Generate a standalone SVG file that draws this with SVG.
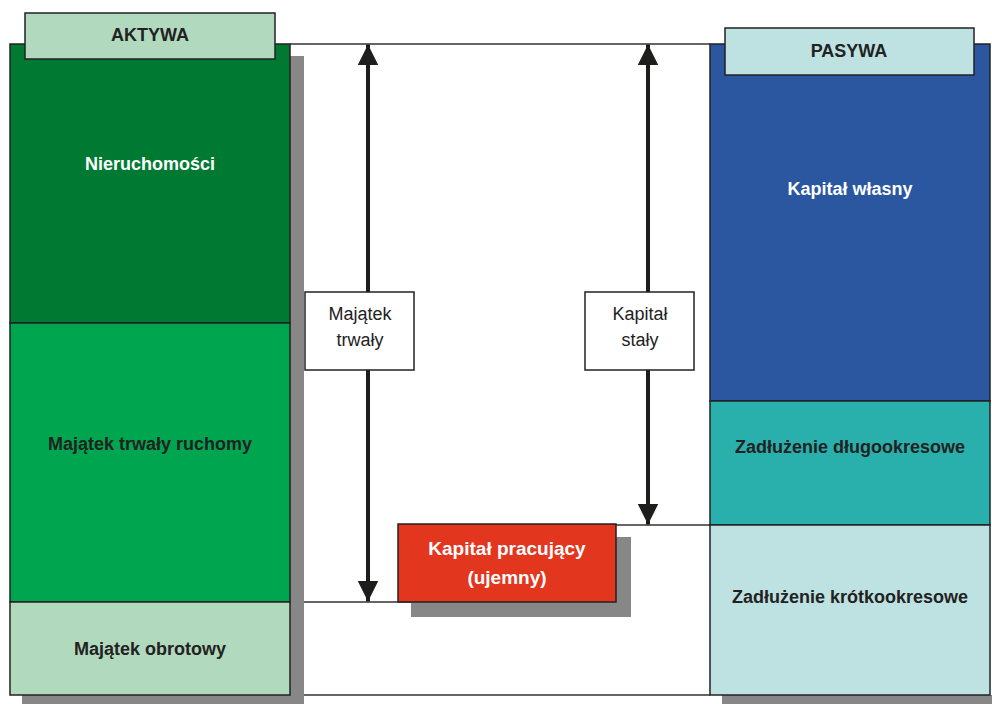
<svg xmlns="http://www.w3.org/2000/svg" width="992" height="704" viewBox="0 0 992 704">
<defs>
<style>
.blk{stroke:#222;stroke-width:1.5}
.sh{fill:#878787}
.b{font-family:"Liberation Sans",Arial,sans-serif;font-weight:bold;font-size:18px;text-anchor:middle;dominant-baseline:central;fill:#222}
.w{fill:#fff}
.big{font-size:19px}
.n{font-family:"Liberation Sans",Arial,sans-serif;font-size:18px;text-anchor:middle;fill:#222}
.ln{stroke:#333;stroke-width:1.3;fill:none}
.arr{stroke:#1d1d1b;stroke-width:4;fill:none}
</style>
<marker id="ah" viewBox="0 0 10 10" refX="10" refY="5" markerWidth="5.2" markerHeight="5.4" orient="auto-start-reverse" markerUnits="strokeWidth">
<path d="M0,0 L10,5 L0,10 z" fill="#1d1d1b"/>
</marker>
</defs>
<rect width="992" height="704" fill="#fff"/>
<g id="connectors">
<line class="ln" x1="290" y1="44" x2="710" y2="44"/>
<line class="ln" x1="290" y1="695" x2="710" y2="695"/>
<line class="ln" x1="290" y1="602" x2="446" y2="602"/>
<line class="ln" x1="570" y1="525" x2="710" y2="525"/>
<line class="arr" x1="368" y1="44.5" x2="368" y2="601.5" marker-start="url(#ah)" marker-end="url(#ah)"/>
<line class="arr" x1="648" y1="44.5" x2="648" y2="524.5" marker-start="url(#ah)" marker-end="url(#ah)"/>
</g>
<g id="aktywa-col">
<rect class="sh" x="290" y="56" width="14" height="648"/>
<rect class="sh" x="22" y="695" width="282" height="9"/>
</g>
<g id="nieruchomosci">
<rect class="blk" x="10" y="44" width="280" height="279" fill="#007a32"/>
<text class="b w" x="150" y="164">Nieruchomości</text>
</g>
<g id="majatek-trwaly-ruchomy">
<rect class="blk" x="10" y="323" width="280" height="279" fill="#00a64f"/>
<text class="b" x="150" y="444">Majątek trwały ruchomy</text>
</g>
<g id="majatek-obrotowy">
<rect class="blk" x="10" y="602" width="280" height="93" fill="#b1d9be"/>
<text class="b" x="150" y="649">Majątek obrotowy</text>
</g>
<g id="aktywa">
<rect class="blk" x="25" y="13" width="250" height="46" fill="#b1d9be"/>
<text class="b" x="150" y="35">AKTYWA</text>
</g>
<g id="pasywa-col">
<rect class="sh" x="722" y="695" width="270" height="9"/>
</g>
<g id="kapital-wlasny">
<rect class="blk" x="710" y="44" width="280" height="357" fill="#2b57a0"/>
<text class="b w" x="850" y="189">Kapitał własny</text>
</g>
<g id="zadluzenie-dlugo">
<rect class="blk" x="710" y="401" width="280" height="124" fill="#2ab0ac"/>
<text class="b" x="850" y="447">Zadłużenie długookresowe</text>
</g>
<g id="zadluzenie-krotko">
<rect class="blk" x="710" y="525" width="280" height="170" fill="#bde2e1"/>
<text class="b" x="850" y="597">Zadłużenie krótkookresowe</text>
</g>
<g id="pasywa">
<rect class="blk" x="725" y="28" width="249" height="47" fill="#bde2e1"/>
<text class="b" x="849" y="51">PASYWA</text>
</g>
<g id="majatek-trwaly">
<rect class="blk" x="305" y="292" width="109" height="78" fill="#fff"/>
<text class="n" x="360" y="320">Majątek</text>
<text class="n" x="360" y="346">trwały</text>
</g>
<g id="kapital-staly">
<rect class="blk" x="585" y="292" width="109" height="78" fill="#fff"/>
<text class="n" x="640" y="320">Kapitał</text>
<text class="n" x="640" y="346">stały</text>
</g>
<g id="kapital-pracujacy">
<rect class="sh" x="411" y="537" width="220" height="80"/>
<rect class="blk" x="398" y="524" width="218" height="78" fill="#e3361f"/>
<text class="b w big" x="507" y="548">Kapitał pracujący</text>
<text class="b w big" x="507" y="577">(ujemny)</text>
</g>
</svg>
